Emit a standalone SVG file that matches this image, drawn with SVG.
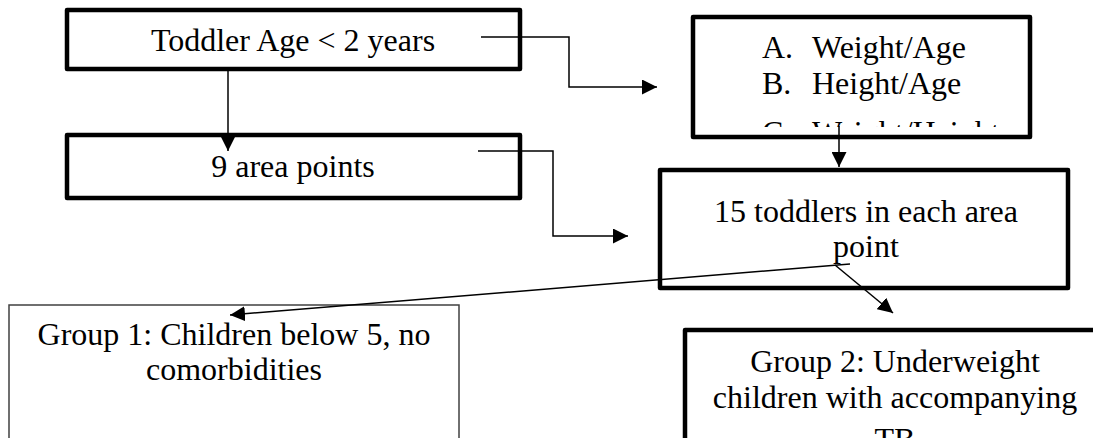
<svg xmlns="http://www.w3.org/2000/svg" width="1093" height="438" viewBox="0 0 1093 438">
<style>
.box{fill:#fff;stroke:#000;stroke-width:4.5;stroke-linejoin:round}
.thin{fill:#fff;stroke:#404040;stroke-width:1.5}
.t{font-family:"Liberation Serif","Times New Roman",serif;font-size:32px;fill:#000}
.c{text-anchor:middle}
.ln{fill:none;stroke:#000;stroke-width:1.5}
</style>
<defs>
<marker id="ah" markerUnits="userSpaceOnUse" markerWidth="15" markerHeight="15" viewBox="0 0 15 15" refX="15" refY="7.5" orient="auto">
<path d="M0,0 L15,7.5 L0,15 z" fill="#000"/>
</marker>
<clipPath id="clipB2"><rect x="695" y="19" width="333" height="108"/></clipPath>
</defs>
<g id="node-age">
<rect class="box" x="67" y="10" width="453" height="59"/>
<text class="t c" x="293" y="51">Toddler Age &lt; 2 years</text>
</g>
<g id="node-measures">
<rect class="box" x="693" y="17" width="337" height="120"/>
<g clip-path="url(#clipB2)">
<text class="t" x="762" y="58">A.</text><text class="t" x="812" y="58">Weight/Age</text>
<text class="t" x="762" y="94">B.</text><text class="t" x="812" y="94">Height/Age</text>
<text class="t" x="762" y="143">C.</text><text class="t" x="812" y="143">Weight/Height</text>
</g>
</g>
<g id="node-area">
<rect class="box" x="67" y="135" width="453" height="63"/>
<text class="t c" x="293" y="177">9 area points</text>
</g>
<g id="node-toddlers">
<rect class="box" x="660" y="170" width="408" height="118"/>
<text class="t c" x="866" y="222">15 toddlers in each area</text>
<text class="t c" x="866" y="257">point</text>
</g>
<g id="node-group1">
<rect class="thin" x="9" y="305" width="450" height="150"/>
<text class="t c" x="234" y="345">Group 1: Children below 5, no</text>
<text class="t c" x="234" y="380">comorbidities</text>
</g>
<g id="node-group2">
<rect class="box" x="685" y="330" width="420" height="130"/>
<text class="t c" x="895" y="372">Group 2: Underweight</text>
<text class="t c" x="895" y="408">children with accompanying</text>
<text class="t c" x="895" y="450">TB</text>
</g>
<g id="connectors">
<path class="ln" d="M228,69 L228,151" marker-end="url(#ah)"/>
<path class="ln" d="M481,37 L569,37 L569,87 L657,87" marker-end="url(#ah)"/>
<path class="ln" d="M478,151 L553,151 L553,236 L628,236" marker-end="url(#ah)"/>
<path class="ln" d="M839,126 L839,167" marker-end="url(#ah)"/>
<path class="ln" d="M850,264 L230,315" marker-end="url(#ah)"/>
<path class="ln" d="M835,265 L893,313" marker-end="url(#ah)"/>
</g>
</svg>
